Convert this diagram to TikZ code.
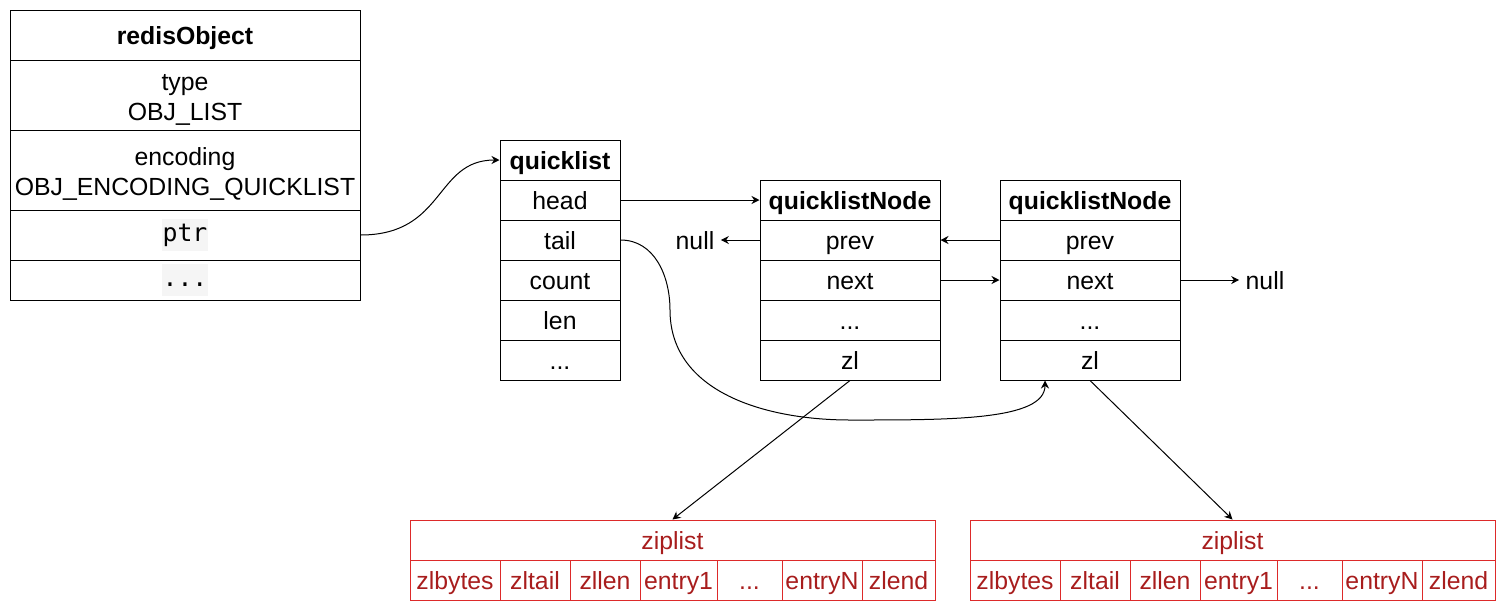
\documentclass[tikz,border=0pt]{standalone}
\usepackage{fontspec}
\setmainfont{Liberation Sans}
\setmonofont{DejaVu Sans Mono}
\usepackage{tikz}
\usetikzlibrary{arrows.meta}
\usepackage{xcolor}
\definecolor{zlred}{HTML}{DD2A2A}
\definecolor{zltext}{HTML}{A81D1D}
\definecolor{codebg}{HTML}{F5F5F5}
\newcommand{\codebox}[1]{{\setlength{\fboxsep}{0.5pt}\colorbox{codebg}{\ttfamily\strut #1}}}

\begin{document}
\begin{tikzpicture}[x=0.5pt, y=-0.5pt, line width=0.5pt, >={Stealth[length=4pt,width=4pt]},
  cell/.style={draw, rectangle, inner sep=0pt, align=center, font=\fontsize{12.4}{15}\selectfont},
  field/.style={cell, text height=10pt, text depth=1pt},
  title/.style={field, font=\fontsize{12.4}{15}\selectfont\bfseries},
  zfield/.style={field, draw=zlred, text=zltext, minimum height=20pt},
  nulltext/.style={font=\fontsize{12.4}{15}\selectfont, inner sep=3pt, text height=10pt, text depth=1pt}]

\useasboundingbox (0,0) rectangle (1506,612);

% redisObject
\node[title, minimum width=175pt, minimum height=25pt] (robj) at (185,35) {redisObject};
\node[cell, minimum width=175pt, minimum height=35pt] (rtype) at (185,95) {\rule{0pt}{13pt}type\\OBJ\_LIST};
\node[cell, minimum width=175pt, minimum height=40pt] (renc) at (185,170) {\rule{0pt}{13pt}encoding\\OBJ\_ENCODING\_QUICKLIST};
\node[cell, minimum width=175pt, minimum height=25pt] (rptr) at (185,235) {\codebox{ptr}};
\node[cell, minimum width=175pt, minimum height=20pt] (rdots) at (185,280) {\codebox{...}};

% quicklist
\node[title, minimum width=60pt, minimum height=20pt] (ql) at (560,160) {quicklist};
\node[field, minimum width=60pt, minimum height=20pt] (head) at (560,200) {head};
\node[field, minimum width=60pt, minimum height=20pt] (tail) at (560,240) {tail};
\node[field, minimum width=60pt, minimum height=20pt] (count) at (560,280) {count};
\node[field, minimum width=60pt, minimum height=20pt] (len) at (560,320) {len};
\node[field, minimum width=60pt, minimum height=20pt] (qdots) at (560,360) {...};

% first quicklistNode
\node[title, minimum width=90pt, minimum height=20pt] (qn1) at (850,200) {quicklistNode};
\node[field, minimum width=90pt, minimum height=20pt] (prev1) at (850,240) {prev};
\node[field, minimum width=90pt, minimum height=20pt] (next1) at (850,280) {next};
\node[field, minimum width=90pt, minimum height=20pt] (dots1) at (850,320) {...};
\node[field, minimum width=90pt, minimum height=20pt] (zl1) at (850,360) {zl};

% second quicklistNode
\node[title, minimum width=90pt, minimum height=20pt] (qn2) at (1090,200) {quicklistNode};
\node[field, minimum width=90pt, minimum height=20pt] (prev2) at (1090,240) {prev};
\node[field, minimum width=90pt, minimum height=20pt] (next2) at (1090,280) {next};
\node[field, minimum width=90pt, minimum height=20pt] (dots2) at (1090,320) {...};
\node[field, minimum width=90pt, minimum height=20pt] (zl2) at (1090,360) {zl};

% null ends
\node[nulltext] (nulla) at (695,240) {null};
\node[nulltext] (nullb) at (1265,280) {null};

% first ziplist
\node[zfield, minimum width=262.5pt] (zip1) at (672.5,540) {ziplist};
\node[zfield, minimum width=45pt] (zba) at (455,580) {zlbytes};
\node[zfield, minimum width=35pt] (zta) at (535,580) {zltail};
\node[zfield, minimum width=35pt] (zla) at (605,580) {zllen};
\node[zfield, minimum width=38.5pt] (eoa) at (678.5,580) {entry1};
\node[zfield, minimum width=32.5pt] (eda) at (749.5,580) {...};
\node[zfield, minimum width=40pt] (ena) at (822,580) {entryN};
\node[zfield, minimum width=36.5pt] (zea) at (898.5,580) {zlend};

% second ziplist
\node[zfield, minimum width=262.5pt] (zip2) at (1232.5,540) {ziplist};
\node[zfield, minimum width=45pt] (zbb) at (1015,580) {zlbytes};
\node[zfield, minimum width=35pt] (ztb) at (1095,580) {zltail};
\node[zfield, minimum width=35pt] (zlb) at (1165,580) {zllen};
\node[zfield, minimum width=38.5pt] (eob) at (1238.5,580) {entry1};
\node[zfield, minimum width=32.5pt] (edb) at (1309.5,580) {...};
\node[zfield, minimum width=40pt] (enb) at (1382,580) {entryN};
\node[zfield, minimum width=36.5pt] (zeb) at (1458.5,580) {zlend};

% pointers
\draw[->] (rptr.east) .. controls +(85,0) and +(-65,0) .. (ql.west);
\draw[->] (head.east) -- (qn1.west);
\draw[->] (prev1.west) -- (nulla.east);
\draw[->] (prev2.west) -- (prev1.east);
\draw[->] (next1.east) -- (next2.west);
\draw[->] (next2.east) -- (nullb.west);
\draw[->] (zl1.south) -- (zip1.north);
\draw[->] (zl2.south) -- (zip2.north);

% tail goes round to the last node
\coordinate (tailbend) at (670,310);
\coordinate (taildip) at (850,420);
\draw[->] (tail.east) .. controls +(34,0) and +(0,-34) .. (tailbend)
  .. controls +(0,83) and +(-83,0) .. (taildip)
  .. controls +(100,0) and +(0,40) .. ([xshift=-22.5pt]zl2.south);
\end{tikzpicture}
\end{document}
